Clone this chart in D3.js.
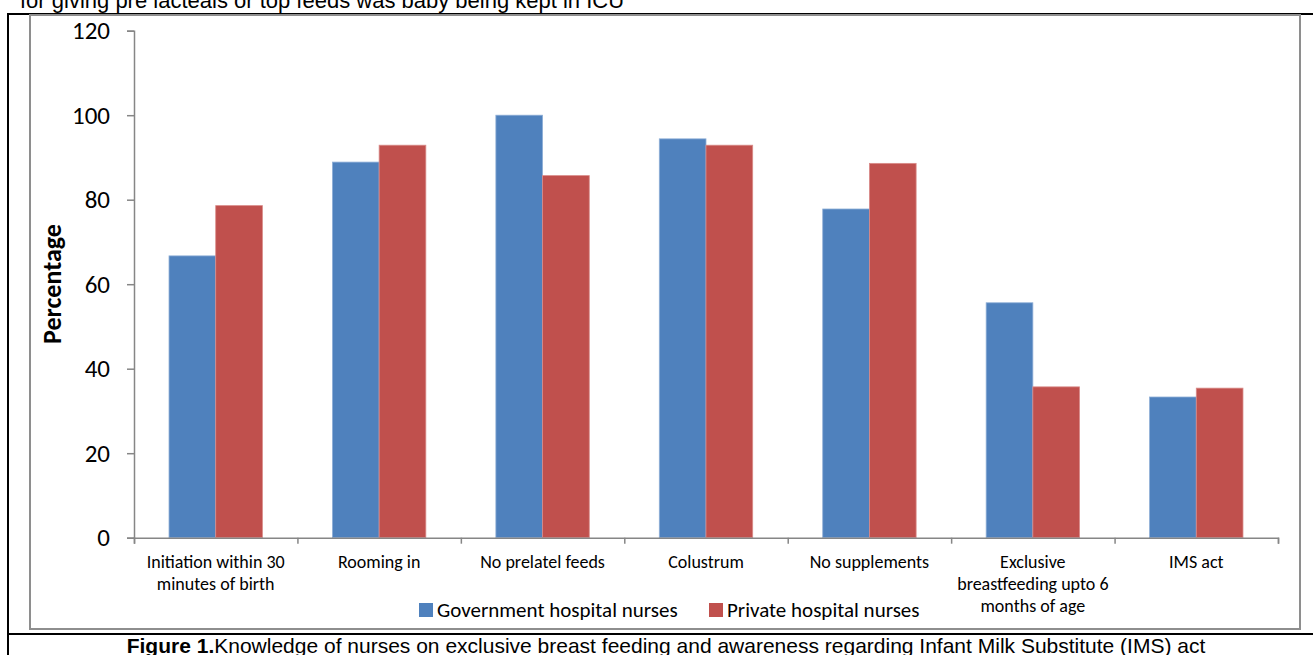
<!DOCTYPE html>
<html>
<head>
<meta charset="utf-8">
<script src="https://cdn.jsdelivr.net/npm/d3@7"></script>
<style>
  html, body { margin: 0; padding: 0; background: #fff; }
  svg { display: block; }
  .cat, .tick text, .legend-label, .axis-title { font-family: Carlito, Calibri, Lato, sans-serif; fill: #000; }
  .note { font-family: "Liberation Sans", Arial, sans-serif; fill: #000; }
</style>
</head>
<body>
<div id="chart"></div>
<script>
// Data
const categories = [
  'Initiation within 30 minutes of birth',
  'Rooming in',
  'No prelatel feeds',
  'Colustrum',
  'No supplements',
  'Exclusive breastfeeding upto 6 months of age',
  'IMS act'
];
const categoryLines = [
  ['Initiation within 30', 'minutes of birth'],
  ['Rooming in'],
  ['No prelatel feeds'],
  ['Colustrum'],
  ['No supplements'],
  ['Exclusive', 'breastfeeding upto 6', 'months of age'],
  ['IMS act']
];
const seriesNames = ['Government hospital nurses', 'Private hospital nurses'];
const governmentValues = [66.7, 88.9, 100, 94.4, 77.8, 55.6, 33.3];
const privateValues = [78.6, 92.9, 85.7, 92.9, 88.6, 35.7, 35.4];
const yTicks = [0, 20, 40, 60, 80, 100, 120];
const colors = ['#4F81BD', '#C0504D'];

const W = 1313, H = 655;
const plot = { left: 134, right: 1278, top: 30.7, bottom: 537.7 };

const svg = d3.select('#chart').append('svg')
  .attr('width', W).attr('height', H);

// Surrounding text from the source page
svg.append('text').attr('class', 'note')
  .attr('x', 20).attr('y', 8)
  .style('font-size', '22px')
  .text('for giving pre lacteals or top feeds was baby being kept in ICU');

// Outer page frame (black) and chart area (gray)
svg.append('path')
  .attr('d', `M8,${H + 5}V14H${W + 5}`)
  .attr('fill', 'none').attr('stroke', '#000').attr('stroke-width', 2);
svg.append('line')
  .attr('x1', 8).attr('x2', W + 5).attr('y1', 634).attr('y2', 634)
  .attr('stroke', '#000').attr('stroke-width', 2);
svg.append('rect')
  .attr('x', 30).attr('y', 15).attr('width', 1270).attr('height', 614)
  .attr('fill', '#fff').attr('stroke', '#8e8e8e').attr('stroke-width', 2);

const caption = svg.append('text').attr('class', 'note')
  .attr('x', 666).attr('y', 653).attr('text-anchor', 'middle')
  .style('font-size', '21px');
caption.append('tspan').style('font-weight', 'bold').text('Figure 1.');
caption.append('tspan').text('Knowledge of nurses on exclusive breast feeding and awareness regarding Infant Milk Substitute (IMS) act');

// Scales
const x = d3.scaleBand().domain(categories).range([plot.left, plot.right]).padding(0);
const bw = x.bandwidth();
const barW = bw / 3.5;
const x1 = d3.scaleBand().domain(seriesNames).range([0.75 * barW, 2.75 * barW]).padding(0);
const y = d3.scaleLinear().domain([0, 120]).range([plot.bottom, plot.top]);

const rows = categories.map((c, i) => ({
  category: c,
  values: [governmentValues[i], privateValues[i]]
}));

// Bars
const g = svg.append('g');
rows.forEach(d => {
  d.values.forEach((v, si) => {
    g.append('rect')
      .attr('x', x(d.category) + x1(seriesNames[si]))
      .attr('y', y(v))
      .attr('width', x1.bandwidth())
      .attr('height', y(0) - y(v))
      .attr('fill', colors[si])
      .attr('stroke', si === 0 ? '#8eaed6' : '#d98b89')
      .attr('stroke-width', 0.8);
  });
});

// Y axis
svg.append('g')
  .attr('transform', `translate(${plot.left},0)`)
  .call(d3.axisLeft(y).tickValues(yTicks).tickSize(7).tickPadding(17))
  .call(a => a.selectAll('line, path').attr('stroke', '#868686').attr('stroke-width', 1.5))
  .call(a => a.selectAll('text').style('font-size', '25px'));

// X axis: line with boundary ticks
const xb = d3.scaleLinear().domain([0, categories.length]).range([plot.left, plot.right]);
svg.append('g')
  .attr('transform', `translate(0,${plot.bottom})`)
  .call(d3.axisBottom(xb).ticks(categories.length).tickSize(6).tickSizeOuter(6).tickFormat(''))
  .call(a => a.selectAll('line, path').attr('stroke', '#868686').attr('stroke-width', 1.5));

// Category labels
categoryLines.forEach((lines, i) => {
  const t = svg.append('text').attr('class', 'cat')
    .attr('x', x(categories[i]) + bw / 2)
    .attr('y', 568)
    .attr('text-anchor', 'middle')
    .style('font-size', '18px');
  lines.forEach((l, li) => {
    t.append('tspan').attr('x', x(categories[i]) + bw / 2).attr('dy', li ? 22 : 0).text(l);
  });
});

// Y axis title
svg.append('text').attr('class', 'axis-title')
  .attr('transform', 'translate(61,284) rotate(-90)')
  .attr('text-anchor', 'middle')
  .style('font-size', '26px').style('font-weight', 'bold')
  .text('Percentage');

// Legend
const legendPos = [419, 709];
seriesNames.forEach((s, i) => {
  svg.append('rect')
    .attr('x', legendPos[i]).attr('y', 603)
    .attr('width', 14).attr('height', 14)
    .attr('fill', colors[i]);
  svg.append('text').attr('class', 'legend-label')
    .attr('x', legendPos[i] + 18).attr('y', 617)
    .style('font-size', '21px')
    .text(s);
});
</script>
</body>
</html>
